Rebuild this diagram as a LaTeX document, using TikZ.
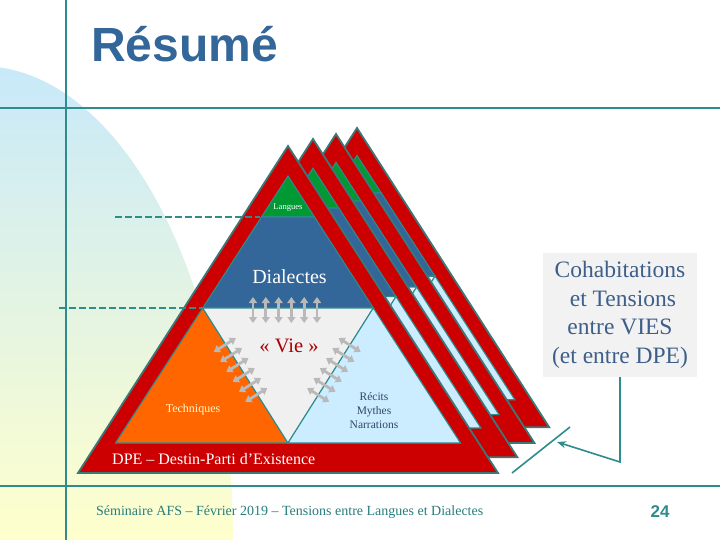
\documentclass[tikz,border=0pt]{standalone}
\usepackage{fontspec}
\setmainfont{Liberation Serif}
\newfontfamily\titlefont{Liberation Sans}
\usetikzlibrary{arrows.meta}
\definecolor{teal1}{RGB}{46,140,140}
\definecolor{footteal}{RGB}{40,125,125}
\definecolor{redT}{RGB}{204,0,0}
\definecolor{greenT}{RGB}{0,153,51}
\definecolor{blueT}{RGB}{51,102,153}
\definecolor{orangeT}{RGB}{255,102,0}
\definecolor{vieT}{RGB}{240,240,240}
\definecolor{recitT}{RGB}{204,236,255}
\definecolor{bgblue}{RGB}{200,233,250}
\definecolor{bgyellow}{RGB}{255,255,204}
\definecolor{titleblue}{RGB}{51,102,153}
\definecolor{boxgrey}{RGB}{242,242,242}
\definecolor{boxtext}{RGB}{61,95,138}
\definecolor{vietext}{RGB}{170,0,0}
\definecolor{recittext}{RGB}{51,68,102}
\definecolor{arrgrey}{RGB}{185,185,185}
\definecolor{bordT}{RGB}{60,120,120}
\definecolor{cream}{RGB}{255,250,210}
\tikzset{
  rule/.style={teal1, line width=2.3pt},
  outerT/.style={draw=bordT, line width=1.8pt, fill=redT, line join=miter},
  region/.style={draw=teal1, line width=1.1pt},
  dashline/.style={teal1, line width=2pt, dash pattern=on 7pt off 3pt},
  garrow/.style={arrgrey, line width=2.8pt, {Triangle[length=6pt,width=8pt]}-{Triangle[length=6pt,width=8pt]}},
  lbl/.style={inner sep=0pt},
}
\newcommand\pyramid[3]{%
  \begin{scope}[shift={(#1,#2)},scale=#3]
    \draw[outerT] (0,0) -- (210,327) -- (-210,327) -- cycle;
    \draw[region,fill=greenT] (0,30) -- (26.5,71) -- (-26.5,71) -- cycle;
    \draw[region,fill=blueT] (-26.5,71) -- (26.5,71) -- (85.3,162) -- (-85.3,162) -- cycle;
    \draw[region,fill=orangeT] (-85.3,162) -- (0,297) -- (-172.5,297) -- cycle;
    \draw[region,fill=vieT] (-85.3,162) -- (85.3,162) -- (0,297) -- cycle;
    \draw[region,fill=recitT] (85.3,162) -- (172.5,297) -- (0,297) -- cycle;
  \end{scope}}
\begin{document}
\begin{tikzpicture}[x=1pt,y=-1pt]
\useasboundingbox (0,0) rectangle (720,540);
\begin{scope}
  \clip (0,0) rectangle (720,540);
  \fill[white] (0,0) rectangle (720,540);
  \shade[top color=bgblue, bottom color=bgyellow]
    (-273,540) arc[start angle=180, end angle=360, x radius=253, y radius=474] -- cycle;
\end{scope}
% layout rules
\draw[rule] (0,108) -- (720,108);
\draw[rule] (66,0) -- (66,540);
\draw[rule] (0,486) -- (720,486);
% title
\node[lbl, anchor=base west, text=titleblue, font=\titlefont\bfseries\fontsize{48}{48}\selectfont] (title) at (91,62) {Résumé};
% stacked pyramids, back to front
\pyramid{357}{128}{0.915}
\pyramid{336}{134}{0.945}
\pyramid{313}{139}{0.973}
\pyramid{288}{146}{1}
% dashed level lines
\coordinate (d1a) at (115,217);
\coordinate (d1b) at (260,217);
\coordinate (d2a) at (59,308);
\coordinate (d2b) at (203,308);
\draw[dashline] (d1a) -- (d1b);
\draw[dashline] (d2a) -- (d2b);
% exchange arrows
\foreach \i in {0,...,5} {
  \pgfmathsetmacro{\xv}{253+12.8*\i}
  \draw[garrow] (\xv,297) -- (\xv,323);
  \pgfmathsetmacro{\yc}{345+10*\i}
  \pgfmathsetmacro{\xl}{203+0.63*(\yc-308)-1.5}
  \pgfmathsetmacro{\xr}{373-0.63*(\yc-308)}
  \draw[garrow] (\xl-11,\yc+6.9) -- (\xl+11,\yc-6.9);
  \draw[garrow] (\xr-11,\yc-6.9) -- (\xr+11,\yc+6.9);
}
% labels
\node[lbl, text=white, font=\fontsize{8.6}{9}\selectfont] (langues) at (288,208) {Langues};
\node[lbl, text=white, font=\fontsize{20}{22}\selectfont] (dialectes) at (289.5,277) {Dialectes};
\node[lbl, text=vietext, font=\fontsize{20.5}{22}\selectfont] (vie) at (289,346) {« Vie »};
\node[lbl, text=cream, font=\fontsize{12}{14}\selectfont] (techniques) at (193,410) {Techniques};
\node[lbl, text=recittext, align=center, font=\fontsize{11.5}{14}\selectfont] (recits) at (374,411) {Récits\\Mythes\\Narrations};
\node[lbl, anchor=base west, text=white, font=\fontsize{16}{18}\selectfont] (dpe) at (112,464.5) {DPE – Destin-Parti d’Existence};
% side box
\node[fill=boxgrey, minimum width=154pt, minimum height=124pt, inner sep=0pt, align=center, text=boxtext,
      font=\fontsize{23.5}{28.5}\selectfont] (cohab) at (620,315)
  {Cohabitations\\\ et Tensions\\entre VIES\\(et entre DPE)};
\coordinate (bend) at (620,462);
\coordinate (tip) at (557,442);
\coordinate (c1) at (512,473);
\coordinate (c2) at (570,427);
\draw[teal1, line width=1.6pt] (c1) -- (c2);
\draw[teal1, line width=1.6pt, -{Stealth[length=9pt,width=7pt]}] (cohab.south) -- (bend) -- (tip);
% footer
\node[lbl, anchor=base west, text=footteal, font=\fontsize{14}{16}\selectfont] (footer) at (96,515.5) {Séminaire AFS – Février 2019 – Tensions entre Langues et Dialectes};
\node[lbl, text=teal1, font=\titlefont\bfseries\fontsize{17}{18}\selectfont] (page) at (660,511.5) {24};
\end{tikzpicture}
\end{document}
